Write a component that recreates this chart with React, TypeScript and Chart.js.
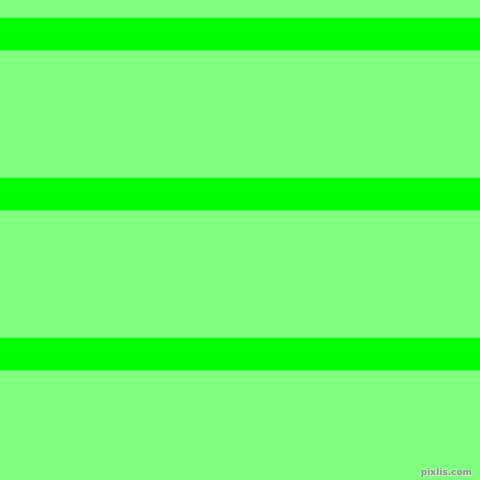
import React, { useEffect, useRef } from "react";
import Chart from "chart.js/auto";
import type { ChartConfiguration, Plugin } from "chart.js";

// one full-width slot; each stripe is a floating bar [top, bottom] in pixels
const categories = ["stripes"];
const stripeStarts = [18, 178, 338];
const stripeEnds = [50, 210, 370];

const BACKGROUND = "#80ff80";
const STRIPE = "#00ff00";

const backgroundPlugin: Plugin = {
  id: "stripeBackground",
  beforeDraw(chart) {
    const ctx = chart.ctx;
    ctx.save();
    ctx.fillStyle = BACKGROUND;
    ctx.fillRect(0, 0, chart.width, chart.height);
    ctx.restore();
  },
  afterDraw(chart) {
    const ctx = chart.ctx;
    ctx.save();
    ctx.font = "bold 9px 'DejaVu Sans'";
    ctx.textAlign = "right";
    ctx.textBaseline = "alphabetic";
    ctx.lineWidth = 2;
    ctx.strokeStyle = "#b8f0b8";
    ctx.strokeText("pixlis.com", chart.width - 8, chart.height - 5);
    ctx.fillStyle = "#8a9a8a";
    ctx.fillText("pixlis.com", chart.width - 8, chart.height - 5);
    ctx.restore();
  },
};

export default function App() {
  const canvasRef = useRef<HTMLCanvasElement | null>(null);

  useEffect(() => {
    const canvas = canvasRef.current;
    if (!canvas) return;

    const config: ChartConfiguration = {
      type: "bar",
      data: {
        labels: categories,
        datasets: stripeStarts.map((start, i) => ({
          label: `stripe ${i + 1}`,
          data: [[start, stripeEnds[i]]] as any,
          backgroundColor: STRIPE,
          borderWidth: 0,
          borderSkipped: false,
          barPercentage: 1,
          categoryPercentage: 1,
          grouped: false,
        })),
      },
      options: {
        responsive: true,
        maintainAspectRatio: false,
        animation: false,
        layout: { padding: 0 },
        plugins: {
          legend: { display: false },
          tooltip: { enabled: false },
        },
        scales: {
          x: { display: false, offset: true, grid: { display: false } },
          y: { display: false, min: 0, max: 480, reverse: true, grid: { display: false } },
        },
      },
      plugins: [backgroundPlugin],
    };

    const chart = new Chart(canvas, config);
    return () => {
      chart.destroy();
    };
  }, []);

  return (
    <div style={{ position: "fixed", top: 0, left: 0, width: 480, height: 480 }}>
      <canvas ref={canvasRef} />
    </div>
  );
}
